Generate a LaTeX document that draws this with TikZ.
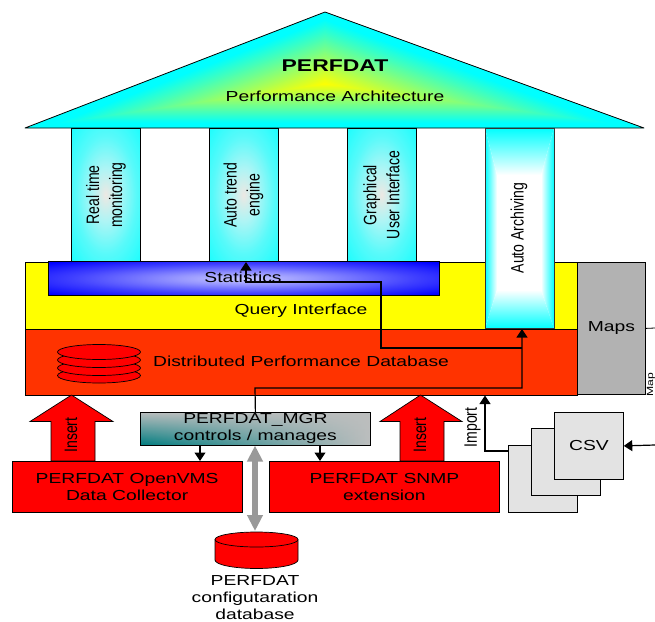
\documentclass[tikz,border=0pt]{standalone}
\usepackage{fontspec}
\setmainfont{Liberation Sans}
\usetikzlibrary{arrows.meta,shadings,fadings}
\definecolor{dbred}{RGB}{255,51,0}
\definecolor{midteal}{RGB}{0,125,128}
\definecolor{endgray}{RGB}{188,190,190}
\definecolor{aqua}{rgb}{0,1,1}
\definecolor{lemon}{rgb}{1,1,0}
\pgfdeclareradialshading{pillarsh}{\pgfpointorigin}{rgb(0bp)=(0.93,0.91,0.89);rgb(10bp)=(0.68,0.96,0.96);rgb(22bp)=(0.35,0.98,0.98);rgb(40bp)=(0.03,1,1);rgb(50bp)=(0,1,1)}
\pgfdeclareradialshading{statsh}{\pgfpointorigin}{rgb(0bp)=(0.78,0.78,1);rgb(9bp)=(0.58,0.58,1);rgb(22bp)=(0.25,0.25,1);rgb(34bp)=(0,0,1);rgb(46bp)=(0,0,0.92);rgb(50bp)=(0,0,0.85)}
\tikzset{
 box/.style={draw=black,line width=.8pt,inner sep=0pt,align=center,font=\wide},
 txt/.style={inner sep=0pt,align=center,font=\wide},
 rtxt/.style={inner sep=0pt,align=center,rotate=90,font=\narrowtxt},
 redbox/.style={box,fill=red},
 csvbox/.style={box,fill=black!11},
 flow/.style={draw=black,line width=1.2pt,-{Triangle[length=8.5pt,width=11pt]}},
 dbl/.style={draw=black!40,line width=6pt,{Triangle[length=16pt,width=15pt]}-{Triangle[length=16pt,width=15pt]}},
 bigarrow/.style={draw=black,line width=.7pt,fill=red},
 disk/.style={draw=black,line width=.7pt,fill=red}
}
\newfontfamily\widefam[FakeStretch=1.33]{Liberation Sans}
\newfontfamily\widebold[FakeStretch=1.35]{Liberation Sans Bold}
\newfontfamily\narrowfam[FakeStretch=0.78]{Liberation Sans}
\newfontfamily\tinyfam[FakeStretch=1.35]{Liberation Sans}
\newcommand{\wide}{\widefam\fontsize{14.5}{17}\selectfont}
\newcommand{\narrowtxt}{\narrowfam\fontsize{18}{23}\selectfont}
\begin{document}
\begin{tikzpicture}[x=1pt,y=-1pt]
\useasboundingbox (0,0) rectangle (655,621);
% roof with a path gradient
\fill[aqua] (325,12) -- (644,128) -- (25,128) -- cycle;
\foreach \i in {50,49,...,1}{
 \pgfmathsetmacro{\s}{\i/50*0.9}
 \pgfmathsetmacro{\p}{100-\i*2}
 \begin{scope}[shift={(325,84)},scale=\s]
 \fill[lemon!\p!aqua] (0,-72) -- (319,44) -- (-300,44) -- cycle;
 \end{scope}
}
\draw[line width=.8pt,line join=round] (325,12) -- (644,128) -- (25,128) -- cycle;
\node[txt,font=\widebold\fontsize{17}{19}\selectfont] (title) at (335,66) {PERFDAT};
\node[txt] (sub) at (335,96) {Performance Architecture};
% layers
\node[box,fill=lemon,minimum width=552pt,minimum height=67pt,anchor=north west] (query) at (25,261.5) {};
\node[txt] (qtxt) at (301,311) {Query Interface};
\path[shading=statsh] (48,261.5) rectangle (439,295.5);
\draw[line width=.8pt] (48,261.5) rectangle (439,295.5);
\node[txt] (stattxt) at (243,277) {Statistics};
\node[box,fill=dbred,minimum width=552pt,minimum height=66pt,anchor=north west] (dpd) at (25,328.5) {};
\node[txt] (dpdtxt) at (301,361.5) {Distributed Performance Database};
% disks
\foreach \y in {375.5,368,360,352}{
 \draw[disk] (99,\y) ellipse (41.5pt and 7.5pt);
}
% pillars
\foreach \x in {71,209,347}{
 \path[shading=pillarsh] (\x,128) rectangle ++(69,133.5);
 \draw[line width=.8pt] (\x,128) rectangle ++(69,133.5);
}
% archiving pillar
\fill[white] (485,128) rectangle (554,328.5);
\shade[left color=aqua,right color=white] (485,128) -- (497,175) -- (497,290) -- (485,328.5) -- cycle;
\shade[left color=white,right color=aqua] (554,128) -- (541,175) -- (541,290) -- (554,328.5) -- cycle;
\shade[top color=aqua,bottom color=white] (485,128) -- (554,128) -- (541,175) -- (497,175) -- cycle;
\shade[top color=white,bottom color=aqua] (485,328.5) -- (554,328.5) -- (541,290) -- (497,290) -- cycle;
\draw[line width=.8pt,draw=black!80] (485,128) rectangle (554,328.5);
\node[rtxt] (l1) at (106,195) {Real time\\monitoring};
\node[rtxt] (l2) at (243.5,195) {Auto trend\\engine};
\node[rtxt] (l3) at (381.5,195) {Graphical\\User Interface};
\node[rtxt] (l4) at (519,228) {Auto Archiving};
% maps
\node[box,fill=black!30,minimum width=68pt,minimum height=132pt,anchor=north west] (maps) at (577,262) {Maps};
\coordinate (mapsout) at (655,328);
\draw[line width=.8pt] (maps.east) -- (mapsout);
\node[inner sep=0pt,rotate=90,anchor=base west,font=\tinyfam\fontsize{9}{10}\selectfont] (maptxt) at (653,397) {Map};
% big arrows
\draw[bigarrow] (71.5,395) -- (113,421.5) -- (95,421.5) -- (95,461) -- (51,461) -- (51,421.5) -- (30,421.5) -- cycle;
\draw[bigarrow] (420.5,395) -- (462,421.5) -- (444,421.5) -- (444,461) -- (400,461) -- (400,421.5) -- (380,421.5) -- cycle;
\node[rtxt] (ins1) at (71,435) {Insert};
\node[rtxt] (ins2) at (420,435) {Insert};
% bottom boxes
\node[redbox,minimum width=229.5pt,minimum height=50.5pt,anchor=north west] (coll) at (12,461) {PERFDAT OpenVMS\\Data Collector};
\node[redbox,minimum width=230pt,minimum height=50.5pt,anchor=north west] (snmp) at (269,461) {PERFDAT SNMP\\extension};
% MGR
\path[left color=midteal,right color=endgray] (140,412) rectangle (370,445);
\fill[endgray,path fading=south] (140,412) rectangle (370,445);
\node[box,fill=none,minimum width=230pt,minimum height=33pt,anchor=north west] (mgr) at (140,412) {PERFDAT\_MGR\\controls / manages};
\coordinate (a1) at (200,445);
\coordinate (a2) at (320,445);
\draw[flow] (a1) -- (a1 |- coll.north);
\draw[flow] (a2) -- (a2 |- snmp.north);
% cylinder
\draw[disk] (215,539.5) -- (215,560) arc[start angle=180,end angle=360,x radius=41.5pt,y radius=8.5pt] -- (298,539.5);
\draw[disk] (256.5,539.5) ellipse (41.5pt and 7.5pt);
\node[txt] (conf) at (255,597.5) {PERFDAT\\configutaration\\database};
\coordinate (dbtop) at (255,531);
\coordinate (mgrb) at (255,445.5);
\draw[dbl] (mgrb) -- (dbtop);
% csv
\node[csvbox,minimum width=69pt,minimum height=67pt,anchor=north west] (c3) at (508,444.5) {};
\node[csvbox,minimum width=69pt,minimum height=67pt,anchor=north west] (c2) at (531,428) {};
\node[csvbox,minimum width=69pt,minimum height=67pt,anchor=north west] (c1) at (554,412) {CSV};
\coordinate (imp) at (485,395.5);
\draw[flow] (c3.west |- 0,451) -- (485,451) -- (imp);
\node[rtxt] (imptxt) at (472.5,427.5) {Import};
\coordinate (csvin) at (655,445);
\draw[flow] (csvin) -- (c1.east);
% connectors
\coordinate (archtip) at (522,329);
\coordinate (stattip) at (246,262);
\draw[flow] (mgr.north) -- (255,388) -- (522,388) -- (archtip);
\draw[flow] (522,348) -- (381,348) -- (381,282) -- (246,282) -- (stattip);
\end{tikzpicture}
\end{document}
